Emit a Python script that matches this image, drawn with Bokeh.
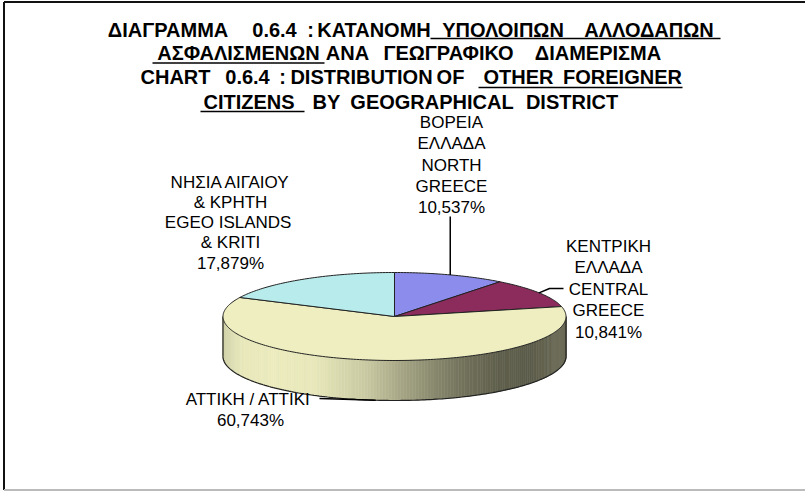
import numpy as np
from bokeh.plotting import figure
from bokeh.models import Range1d
from bokeh.core.properties import value
from bokeh.embed import file_html
from bokeh.resources import INLINE

# ---------------- data ----------------
regions = ["NORTH GREECE", "CENTRAL GREECE", "ATTIKI", "EGEO ISLANDS & KRITI"]
shares = [10.537, 10.841, 60.743, 17.879]
label_text = [
    ["ΒΟΡΕΙΑ", "ΕΛΛΑΔΑ", "NORTH", "GREECE"],
    ["ΚΕΝΤΡΙΚΗ", "ΕΛΛΑΔΑ", "CENTRAL", "GREECE"],
    ["ΑΤΤΙΚΗ  / ΑΤΤΙΚΙ"],
    ["ΝΗΣΙΑ ΑΙΓΑΙΟΥ", "& ΚΡΗΤΗ", "EGEO  ISLANDS", "& KRITI"],
]
slice_colors = ["#8C8CEC", "#8C2C5C", "#EEEEC0", "#B8ECEC"]

title_words = [
    ["ΔΙΑΓΡΑΜΜΑ", "0.6.4", ":", "ΚΑΤΑΝΟΜΗ", "ΥΠΟΛΟΙΠΩΝ", "ΑΛΛΟΔΑΠΩΝ"],
    ["ΑΣΦΑΛΙΣΜΕΝΩΝ", "ΑΝΑ", "ΓΕΩΓΡΑΦΙΚΟ", "ΔΙΑΜΕΡΙΣΜΑ"],
    ["CHART", "0.6.4", ":", "DISTRIBUTION", "OF", "OTHER", "FOREIGNER"],
    ["CITIZENS", "BY", "GEOGRAPHICAL", "DISTRICT"],
]

# ---------------- layout (pixel-like coordinates, y downward) ----------------
title_word_cx = [
    [167.5, 274, 310, 373.5, 502.5, 648.5],
    [238, 347, 448, 597.5],
    [175, 247, 282, 361, 450, 518, 622],
    [248.5, 326, 431.5, 571.5],
]
title_mid = [29.3, 52.3, 76.5, 101.5]
title_underline = [(430, 720, 38), (152, 324, 62.5), (478, 682, 87), (200, 304, 111)]

label_cx = [451, 608, 250, 230]
label_mid0 = [122.0, 245.5, 398.5, 181.5]
label_step = [21.3, 21.5, 21.0, 20.3]

cx, cy, a, b, depth = 394.0, 316.0, 171.5, 44.0, 40.0


def pt(theta_deg, dy=0.0):
    th = np.radians(theta_deg)
    return cx + a * np.sin(th), cy - b * np.cos(th) + dy


def hex_to_rgb(h):
    h = h.lstrip("#")
    return tuple(int(h[i:i + 2], 16) for i in (0, 2, 4))


def shade(h, f):
    r, g, bb = hex_to_rgb(h)
    return "#%02x%02x%02x" % tuple(int(max(0, min(255, round(c * f)))) for c in (r, g, bb))


W, H = 805, 491
p = figure(width=W, height=H, x_range=Range1d(0, W), y_range=Range1d(H, 0),
           output_backend="svg", toolbar_location=None, min_border=0,
           background_fill_color="white", border_fill_color="white")
p.axis.visible = False
p.grid.visible = False
p.outline_line_color = None

# frame
p.segment(x0=[3.5, 3.5, 3.5], y0=[1.5, 1.5, H - 1.5], x1=[W, 3.5, W], y1=[1.5, H - 1.5, H - 1.5],
          line_color=["#111111", "#111111", "#BBBBBB"], line_width=[2, 2, 2])

total = float(sum(shares))
angles = np.cumsum([0.0] + [s / total * 360.0 for s in shares])
starts, ends = angles[:-1], angles[1:]
mids = (starts + ends) / 2.0

# ---- side (front half, 90..270 degrees) ----
t_stops = [0, 0.05, 0.15, 0.27, 0.42, 0.51, 0.61, 0.71, 0.80, 0.90, 1.0]
f_stops = [0.88, 0.97, 0.99, 0.97, 0.84, 0.71, 0.58, 0.47, 0.40, 0.39, 0.45]
side_xs, side_ys, side_cols = [], [], []
edges = np.arange(90.0, 270.01, 1.0)
for t0, t1 in zip(edges[:-1], edges[1:]):
    tm = (t0 + t1) / 2
    k = int(np.searchsorted(ends, tm))
    k = min(k, len(shares) - 1)
    x0, y0 = pt(t0)
    x1, y1 = pt(t1)
    xm, _ = pt(tm)
    tt = (xm - (cx - a)) / (2 * a)
    col = shade(slice_colors[k], float(np.interp(tt, t_stops, f_stops)))
    side_xs.append([x0, x1, x1, x0])
    side_ys.append([y0, y1, y1 + depth, y0 + depth])
    side_cols.append(col)
p.patches(side_xs, side_ys, fill_color=side_cols, line_color=side_cols, line_width=0.6)

arc = np.linspace(90, 270, 181)
bx, by = pt(arc, depth)
p.line(bx, by, line_color="#222222", line_width=1.2)
lx0, ly0 = pt(270)
rx0, ry0 = pt(90)
p.segment(x0=[lx0, rx0], y0=[ly0, ry0], x1=[lx0, rx0], y1=[ly0 + depth, ry0 + depth],
          line_color="#222222", line_width=1.2)
for e in list(starts) + [ends[-1]]:
    if 90 < e % 360 < 270:
        ex, ey = pt(e)
        p.segment(x0=[ex], y0=[ey], x1=[ex], y1=[ey + depth], line_color="#222222")

# ---- top face ----
top_xs, top_ys = [], []
for s, e in zip(starts, ends):
    th = np.linspace(s, e, max(3, int(e - s) + 2))
    ax_, ay_ = pt(th)
    top_xs.append([cx] + list(ax_))
    top_ys.append([cy] + list(ay_))
p.patches(top_xs, top_ys, fill_color=slice_colors, line_color="#222222", line_width=1)

# ---- leader lines ----
nx, ny = pt(mids[0])
p.line([nx, nx], [216, ny], line_color="black", line_width=1.5)
mx, my = pt(mids[1])
p.line([563, 549, mx], [288, 288, my], line_color="black", line_width=1.5)
ax2, ay2 = pt(mids[2], depth)
p.line([319, ax2], [398, ay2], line_color="black", line_width=1.5)

# ---- labels ----
lx, ly, lt = [], [], []
for i, lines in enumerate(label_text):
    lines = lines + [("%.3f%%" % shares[i]).replace(".", ",")]
    for j, ln in enumerate(lines):
        lx.append(label_cx[i])
        ly.append(label_mid0[i] + j * label_step[i])
        lt.append(ln)
p.text(x=lx, y=ly, text=lt, text_font=value("Liberation Sans"), text_font_size="17px",
       text_align="center", text_baseline="middle", text_color="black")

# ---- title ----
tx, ty, tt_ = [], [], []
for i, words in enumerate(title_words):
    for w, xw in zip(words, title_word_cx[i]):
        tx.append(xw)
        ty.append(title_mid[i])
        tt_.append(w)
p.text(x=tx, y=ty, text=tt_, text_font=value("Liberation Sans"), text_font_size="20px",
       text_font_style="bold", text_align="center", text_baseline="middle", text_color="black")
p.segment(x0=[u[0] for u in title_underline], y0=[u[2] for u in title_underline],
          x1=[u[1] for u in title_underline], y1=[u[2] for u in title_underline],
          line_color="black", line_width=1.6)

open("out.html", "w").write(file_html(p, INLINE))
